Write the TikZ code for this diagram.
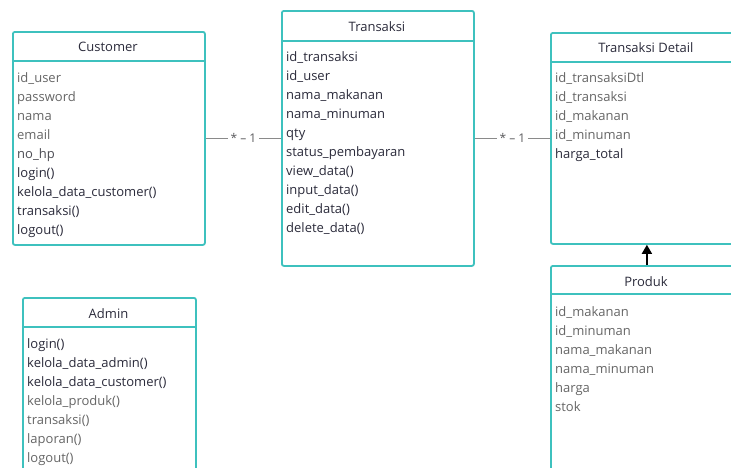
\documentclass[tikz,border=0pt]{standalone}
\usepackage{fontspec}
\setmainfont{Open Sans}
\usetikzlibrary{arrows.meta}
\definecolor{tealb}{HTML}{3EC1BE}
\definecolor{dk}{HTML}{2B2B3B}
\definecolor{gr}{HTML}{666666}
\definecolor{ln}{HTML}{8A8A8A}
\begin{document}
\begin{tikzpicture}[x=1pt,y=-1pt,
  umlbox/.style={draw=tealb, line width=1.8pt, rounded corners=2pt, fill=white, anchor=north west, inner sep=0pt, minimum width=192pt},
  hdr/.style={draw=tealb, line width=1.8pt},
  ttl/.style={font=\fontsize{13}{15}\selectfont, text=dk, text height=9pt, text depth=3pt, inner sep=0pt},
  attr/.style={anchor=west, font=\fontsize{13}{15}\selectfont, text=#1, text height=9pt, text depth=3pt, inner sep=0pt},
  conn/.style={draw=ln, line width=1.2pt},
  mult/.style={fill=white, text=gr!80!dk, font=\fontsize{12}{14}\selectfont, inner sep=3pt},
]
\useasboundingbox (0,0) rectangle (731,467);
\clip (0,0) rectangle (731,467);

% boxes
\node[umlbox, minimum height=213pt] (cust) at (12,31) {};
\node[umlbox, minimum height=255pt] (trans) at (281,10) {};
\node[umlbox, minimum height=211pt] (td) at (550,32) {};
\node[umlbox, minimum height=230pt] (prod) at (550,265) {};
\node[umlbox, minimum width=173pt, minimum height=200pt] (adm) at (22,297) {};

% header separators
\draw[hdr] (cust.north west) ++(0,30) -- ++(192,0);
\draw[hdr] (trans.north west) ++(0,31) -- ++(192,0);
\draw[hdr] (td.north west) ++(0,30) -- ++(192,0);
\draw[hdr] (prod.north west) ++(0,29) -- ++(192,0);
\draw[hdr] (adm.north west) ++(0,30) -- ++(173,0);

% titles
\node[ttl] (custT) at (108,48) {Customer};
\node[ttl] (transT) at (377,28) {Transaksi};
\node[ttl] (tdT) at (646,49) {Transaksi Detail};
\node[ttl] (prodT) at (646,283) {Produk};
\node[ttl] (admT) at (108.5,315) {Admin};

% Customer rows
\foreach \t/\c [count=\i from 0] in {id\_user/gr, password/gr, nama/gr, email/gr, no\_hp/gr!60!dk, login()/dk, kelola\_data\_customer()/dk, transaksi()/dk, logout()/dk}
  \node[attr=\c] (cu\i) at (17,79+19*\i) {\t};

% Transaksi rows
\foreach \t/\c [count=\i from 0] in {id\_transaksi/dk, id\_user/dk, nama\_makanan/dk, nama\_minuman/dk, qty/dk, status\_pembayaran/dk, view\_data()/dk, input\_data()/dk, edit\_data()/dk, delete\_data()/dk}
  \node[attr=\c] (tr\i) at (286,58+19*\i) {\t};

% Transaksi Detail rows
\foreach \t/\c [count=\i from 0] in {id\_transaksiDtl/gr, id\_transaksi/gr, id\_makanan/gr, id\_minuman/gr, harga\_total/dk}
  \node[attr=\c] (td\i) at (555,79+19*\i) {\t};

% Produk rows
\foreach \t/\c [count=\i from 0] in {id\_makanan/gr, id\_minuman/gr, nama\_makanan/gr, nama\_minuman/gr, harga/gr, stok/gr}
  \node[attr=\c] (pr\i) at (555,313+19*\i) {\t};

% Admin rows
\foreach \t/\c [count=\i from 0] in {login()/dk, kelola\_data\_admin()/dk, kelola\_data\_customer()/dk, kelola\_produk()/gr, transaksi()/gr, laporan()/gr, logout()/gr}
  \node[attr=\c] (ad\i) at (27,345+19*\i) {\t};

% associations
\draw[conn] (cust.east) -- node[mult] (m1) {* -- 1} (trans.west);
\draw[conn] (trans.east) -- node[mult] (m2) {* -- 1} (td.west);

% arrow Produk -> Transaksi Detail
\draw[line width=1.6pt, -{Triangle[length=9pt,width=10pt]}] (prod.north) -- (td.south);
\end{tikzpicture}
\end{document}
